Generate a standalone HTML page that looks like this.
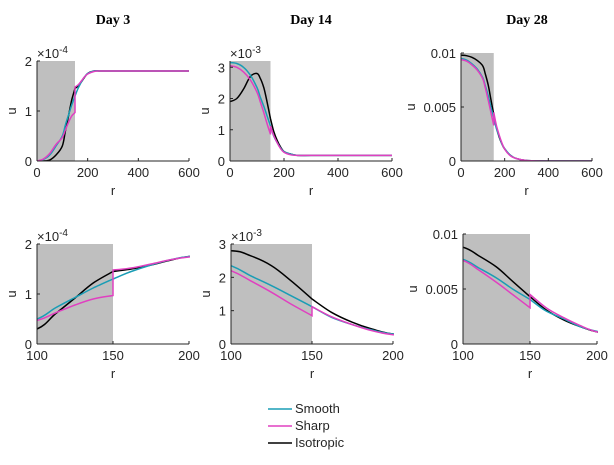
<!DOCTYPE html>
<html><head><meta charset="utf-8"><style>
body{margin:0;background:#fff;width:614px;height:460px;overflow:hidden}
svg text{font-family:"Liberation Sans",sans-serif;font-size:13px;fill:#262626}
.t{font-family:"Liberation Serif",serif;font-size:14px;font-weight:bold;fill:#000}
</style></head><body>
<svg id="c" width="614" height="460"></svg>
<script>
const rVals=[0,25,50,75,100,112,125,137,150,150,162,175,187,200,225,250,300,400,600];
const day3Smooth=[0,0.03,0.12,0.3,0.5,0.72,0.93,1.12,1.3,1.3,1.45,1.58,1.68,1.75,1.8,1.8,1.8,1.8,1.8];
const day3Sharp=[0,0.04,0.15,0.33,0.47,0.62,0.78,0.9,0.97,1.48,1.52,1.6,1.68,1.74,1.79,1.8,1.8,1.8,1.8];
const day3Iso=[0,0,0.02,0.12,0.3,0.6,0.92,1.22,1.45,1.45,1.5,1.58,1.67,1.75,1.8,1.8,1.8,1.8,1.8];
const day14Smooth=[3.15,3.12,3.0,2.75,2.35,2.05,1.75,1.45,1.12,1.12,0.8,0.58,0.42,0.3,0.22,0.18,0.18,0.18,0.18];
const day14Sharp=[3.05,3.0,2.85,2.6,2.2,1.9,1.55,1.2,0.85,1.12,0.82,0.58,0.4,0.28,0.2,0.18,0.18,0.18,0.18];
const day14Iso=[1.9,2.0,2.3,2.7,2.8,2.65,2.35,1.9,1.35,1.35,0.95,0.65,0.45,0.3,0.22,0.18,0.18,0.18,0.18];
const day28Smooth=[9.5,9.35,9.0,8.5,7.7,6.9,6.0,5.0,4.05,4.05,3.0,2.3,1.6,1.15,0.55,0.25,0.05,0,0];
const day28Sharp=[9.4,9.25,8.9,8.4,7.6,6.7,5.6,4.5,3.3,4.5,3.3,2.4,1.7,1.1,0.5,0.25,0.05,0,0];
const day28Iso=[9.8,9.75,9.6,9.3,8.8,8.0,7.0,5.7,4.3,4.3,3.1,2.2,1.6,1.1,0.55,0.25,0.05,0,0];
const titles=["Day 3","Day 14","Day 28"];
const xTicksTop=[0,200,400,600];
const xTicksBottom=[100,150,200];
const yTicks3=[0,1,2], yTicks14=[0,1,2,3], yTicks28=[0,5,10];
const yLabels28=["0","0.005","0.01"];
const svg=document.getElementById('c');
const NS='http://www.w3.org/2000/svg';
function mk(t,a,p){const e=document.createElementNS(NS,t);for(const k in a)e.setAttribute(k,a[k]);(p||svg).appendChild(e);return e;}
function smoothPath(P){
 // split at repeated x, Catmull-Rom within each segment
 const segs=[];let cur=[P[0]];
 for(let k=1;k<P.length;k++){if(Math.abs(P[k][0]-P[k-1][0])<0.01){segs.push(cur);cur=[P[k-1],P[k]];segs.push(cur);cur=[P[k]];}else cur.push(P[k]);}
 segs.push(cur);
 let d='M'+P[0][0].toFixed(1)+','+P[0][1].toFixed(1);
 segs.forEach(s=>{
  if(s.length===2&&Math.abs(s[0][0]-s[1][0])<0.01){d+='L'+s[1][0].toFixed(1)+','+s[1][1].toFixed(1);return;}
  for(let k=0;k<s.length-1;k++){
   const p0=s[Math.max(0,k-1)],p1=s[k],p2=s[k+1],p3=s[Math.min(s.length-1,k+2)];
   const c1=[p1[0]+(p2[0]-p0[0])/6,p1[1]+(p2[1]-p0[1])/6];
   const c2=[p2[0]-(p3[0]-p1[0])/6,p2[1]-(p3[1]-p1[1])/6];
   d+='C'+c1.map(v=>v.toFixed(1))+' '+c2.map(v=>v.toFixed(1))+' '+p2[0].toFixed(1)+','+p2[1].toFixed(1);
  }
 });
 return d;
}
const days=[
 {s:day3Smooth,h:day3Sharp,i:day3Iso,yt:yTicks3,yl:null,exp:"-4"},
 {s:day14Smooth,h:day14Sharp,i:day14Iso,yt:yTicks14,yl:null,exp:"-3"},
 {s:day28Smooth,h:day28Sharp,i:day28Iso,yt:yTicks28,yl:yLabels28,exp:null}];
const panels=[
 {d:0,x0:37,x1:189,y0:161,y1:61,xmin:0,xmax:600,xt:xTicksTop,ymax:2},
 {d:1,x0:230,x1:392,y0:161,y1:61,xmin:0,xmax:600,xt:xTicksTop,ymax:3.2},
 {d:2,x0:461,x1:592,y0:161,y1:53,xmin:0,xmax:600,xt:xTicksTop,ymax:10},
 {d:0,x0:37,x1:189,y0:344,y1:244,xmin:100,xmax:200,xt:xTicksBottom,ymax:2},
 {d:1,x0:231,x1:393,y0:344,y1:244,xmin:100,xmax:200,xt:xTicksBottom,ymax:3},
 {d:2,x0:463,x1:597,y0:344,y1:234,xmin:100,xmax:200,xt:xTicksBottom,ymax:10}];
panels.forEach((p,pi)=>{
 const D=days[p.d];
 const g=mk('g',{});
 
 
 const X=v=>p.x0+(v-p.xmin)/(p.xmax-p.xmin)*(p.x1-p.x0);
 const Y=v=>p.y0-v/p.ymax*(p.y0-p.y1);
 const cid='cl'+pi;
 const cp=mk('clipPath',{id:cid},g);mk('rect',{x:p.x0,y:p.y1-2,width:p.x1-p.x0+1,height:p.y0-p.y1+2},cp);
 const gr=mk('rect',{x:X(Math.max(p.xmin,0)),y:p.y1,width:X(150)-X(Math.max(p.xmin,0)),height:p.y0-p.y1,fill:'#bfbfbf'},g);
 
 
 [[D.i,'#000','isotropic'],[D.s,'#1a9db5','smooth'],[D.h,'#e040c0','sharp']].forEach(([arr,col,nm])=>{
  const P=rVals.map((r,k)=>[X(r),Y(arr[k])]);
  const l=mk('path',{d:smoothPath(P),fill:'none',stroke:col,'stroke-width':1.5,'clip-path':'url(#'+cid+')'},g);
  
  
 });
 mk('line',{x1:p.x0,y1:p.y0,x2:p.x1,y2:p.y0,stroke:'#262626'},g);
 mk('line',{x1:p.x0,y1:p.y0,x2:p.x0,y2:p.y1,stroke:'#262626'},g);
 p.xt.forEach(v=>{mk('line',{x1:X(v),y1:p.y0,x2:X(v),y2:p.y0-3,stroke:'#262626'},g);
  const t=mk('text',{x:X(v),y:p.y0+16,'text-anchor':'middle'},g);t.textContent=v;});
 D.yt.forEach((v,k)=>{mk('line',{x1:p.x0,y1:Y(v),x2:p.x0+3,y2:Y(v),stroke:'#262626'},g);
  const t=mk('text',{x:p.x0-5,y:Y(v)+5,'text-anchor':'end'},g);t.textContent=D.yl?D.yl[k]:v;});
 const xl=mk('text',{x:(p.x0+p.x1)/2,y:p.y0+34,'text-anchor':'middle','font-size':'15'},g);xl.textContent='r';
 
 const yx=D.yl?p.x0-46:p.x0-21;
 const yl=mk('text',{x:yx,y:(p.y0+p.y1)/2,'text-anchor':'middle',transform:'rotate(-90 '+yx+' '+(p.y0+p.y1)/2+')','font-size':'15'},g);yl.textContent='u';
 
 if(D.exp){const e=mk('text',{x:p.x0,y:p.y1-3},g);e.innerHTML='×10<tspan dy="-5" font-size="10">'+D.exp+'</tspan>';
  }
 if(pi<3){const t=mk('text',{x:[113,311,527][pi],y:24,'text-anchor':'middle',class:'t'},g);t.textContent=titles[p.d];
  }
});
const lg=mk('g',{});


[['Smooth','#1a9db5',409],['Sharp','#e040c0',426],['Isotropic','#000',443]].forEach(([n,c,y])=>{
 const e=mk('g',{},lg);
 
 
 mk('line',{x1:268,y1:y,x2:292,y2:y,stroke:c,'stroke-width':1.5},e);
 const t=mk('text',{x:295,y:y+4},e);t.textContent=n;
});
</script>
</body></html>
